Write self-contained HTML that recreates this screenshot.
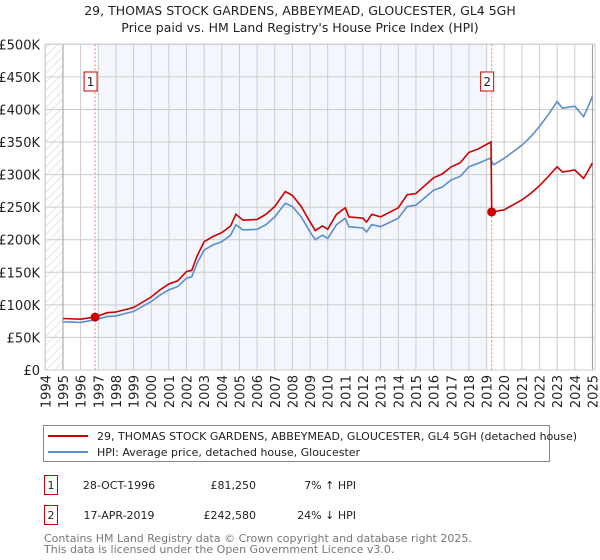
<!DOCTYPE html>
<html><head><meta charset="utf-8"><style>
body{margin:0;background:#fff;font-family:"Liberation Sans","DejaVu Sans",sans-serif;}
#wrap{position:relative;width:600px;height:560px;overflow:hidden;}
svg text{font-family:"DejaVu Sans","Liberation Sans",sans-serif;}
</style></head><body>
<div id="wrap">
<svg id="chart" width="600" height="560"></svg>
</div>
<script>
const hpiYears=[1995,1996,1996.8,1997.5,1998,1999,2000,2000.5,2001,2001.5,2002,2002.3,2002.6,2003,2003.5,2004,2004.5,2004.8,2005.2,2006,2006.5,2007,2007.6,2008,2008.5,2009,2009.3,2009.7,2010,2010.5,2011,2011.2,2012,2012.2,2012.5,2013,2014,2014.5,2015,2016,2016.5,2017,2017.5,2018,2018.5,2019.2,2019.4,2020,2021,2021.5,2022,2022.5,2023,2023.3,2024,2024.5,2024.8,2025];
const hpiValues=[74,73,77,82,83,90,105,115,123,128,141,143,164,184,192,197,207,223,215,216,223,235,256,251,235,212,200,207,202,223,233,220,218,212,223,220,233,251,253,276,281,292,297,312,317,325,315,325,345,358,374,392,412,402,405,389,407,420];
const priceYears=[1995,1996,1996.82,1997.5,1998,1999,2000,2000.5,2001,2001.5,2002,2002.3,2002.6,2003,2003.5,2004,2004.5,2004.8,2005.2,2006,2006.5,2007,2007.6,2008,2008.5,2009,2009.3,2009.7,2010,2010.5,2011,2011.2,2012,2012.2,2012.5,2013,2014,2014.5,2015,2016,2016.5,2017,2017.5,2018,2018.5,2019.25,2019.29,2020,2021,2021.5,2022,2022.5,2023,2023.3,2024,2024.5,2024.8,2025];
const priceValues=[79,78,81.25,88,89,96,112,123,132,137,151,153,175,197,205,211,221,239,230,231,239,251,274,268,251,227,214,221,216,239,249,235,233,227,239,235,249,269,271,295,301,312,318,334,339,350,242.58,246,261,271,283,297,312,304,307,294,308,318];
const yTicks=[0,50,100,150,200,250,300,350,400,450,500];
const yTickLabels=["£0","£50K","£100K","£150K","£200K","£250K","£300K","£350K","£400K","£450K","£500K"];
const xTicks=[1994,1995,1996,1997,1998,1999,2000,2001,2002,2003,2004,2005,2006,2007,2008,2009,2010,2011,2012,2013,2014,2015,2016,2017,2018,2019,2020,2021,2022,2023,2024,2025];
const saleYears=[1996.82,2019.29];
const saleValues=[81.25,242.58];
const saleLabels=["1","2"];

const NS="http://www.w3.org/2000/svg";
const svg=document.getElementById('chart');
const L=45,R=595,T=44.3,B=370;
const xs=y=>45.3+(y-1994)*17.65;
const ys=v=>B-(v/500)*(B-T);
function mk(tag,attrs,parent){const e=document.createElementNS(NS,tag);for(const k in attrs)e.setAttribute(k,attrs[k]);(parent||svg).appendChild(e);return e;}

// defs hatch
const defs=mk('defs',{});
const pat=mk('pattern',{id:'hatch',width:6,height:6,patternUnits:'userSpaceOnUse',patternTransform:'rotate(45)'},defs);
mk('line',{x1:0,y1:0,x2:0,y2:6,stroke:'#ccc','stroke-width':1},pat);

// title
let t=mk('text',{x:300,y:15,'text-anchor':'middle','font-size':12.5,fill:'#222'});
t.textContent="29, THOMAS STOCK GARDENS, ABBEYMEAD, GLOUCESTER, GL4 5GH";


t=mk('text',{x:300,y:32,'text-anchor':'middle','font-size':12.5,fill:'#222'});
t.textContent="Price paid vs. HM Land Registry's House Price Index (HPI)";



// hatch region and shaded region
let r=mk('rect',{x:L,y:T,width:xs(1995)-L,height:B-T,fill:'url(#hatch)'});


r=mk('rect',{x:xs(saleYears[0])+3,y:T,width:xs(saleYears[1])-xs(saleYears[0])-7,height:B-T,fill:'#eef3fc',opacity:0.7});



// grid
const g=mk('g',{});


yTicks.forEach((v,i)=>{
  mk('line',{x1:L,x2:R,y1:ys(v),y2:ys(v),stroke:'#ccc','stroke-width':1},g);
  const tx=mk('text',{x:40,y:ys(v)+5,'text-anchor':'end','font-size':13,fill:'#222'});
  tx.textContent=yTickLabels[i];
  
  
});
xTicks.forEach(y=>{
  mk('line',{x1:xs(y),x2:xs(y),y1:T,y2:B,stroke:(y===1995||y===2025)?'#999':'#ccc','stroke-width':1},g);
  const tx=mk('text',{transform:`translate(${xs(y)+5},${B+5}) rotate(-90)`,'text-anchor':'end','font-size':13,fill:'#222'});
  tx.textContent=y;
  
  
});
mk('rect',{x:L,y:T,width:R-L,height:B-T,fill:'none',stroke:'#ccc'},g);

// sale markers dashed lines & labels
saleYears.forEach((y,i)=>{
  const ln=mk('line',{x1:xs(y),x2:xs(y),y1:T,y2:B,stroke:'#f77','stroke-width':1,'stroke-dasharray':'2,2'});
  
  
  const bx=mk('rect',{x:xs(y)-11,y:72,width:13,height:19,fill:'#fff',stroke:'#c00'});
  
  
  const tx=mk('text',{x:xs(y)-4.5,y:86,'text-anchor':'middle','font-size':12,fill:'#222'});
  tx.textContent=saleLabels[i];
});

function pathFor(xsA,vsA){return xsA.map((y,i)=>(i?'L':'M')+xs(y).toFixed(1)+','+ys(vsA[i]).toFixed(1)).join(' ');}
let p=mk('path',{d:pathFor(hpiYears,hpiValues),fill:'none',stroke:'#5b8dd0','stroke-width':1.6});


p=mk('path',{d:pathFor(priceYears,priceValues),fill:'none',stroke:'#cc0000','stroke-width':1.6});


saleYears.forEach((y,i)=>{
  const c=mk('circle',{cx:xs(y),cy:ys(saleValues[i]),r:4.5,fill:'#cc0000'});
  
  
});

// legend
const lg=mk('g',{});


mk('rect',{x:43.5,y:425.5,width:506,height:36,fill:'#fff',stroke:'#888'},lg);
mk('line',{x1:48,x2:88,y1:436,y2:436,stroke:'#cc0000','stroke-width':2},lg);
mk('line',{x1:48,x2:88,y1:452,y2:452,stroke:'#5b8dd0','stroke-width':2},lg);
let lt=mk('text',{x:97,y:440,'font-size':11,fill:'#222'},lg);
lt.textContent="29, THOMAS STOCK GARDENS, ABBEYMEAD, GLOUCESTER, GL4 5GH (detached house)";


lt=mk('text',{x:97,y:456,'font-size':11,fill:'#222'},lg);
lt.textContent="HPI: Average price, detached house, Gloucester";



// table
const rows=[["1","28-OCT-1996","£81,250","7% ↑ HPI"],["2","17-APR-2019","£242,580","24% ↓ HPI"]];
rows.forEach((row,i)=>{
  const y0=475+i*30;
  const rg=mk('g',{});
  
  
  mk('rect',{x:44.5,y:y0+0.5,width:13,height:19,fill:'#fff',stroke:'#c00'},rg);
  let a=mk('text',{x:51,y:y0+14,'text-anchor':'middle','font-size':11,fill:'#222'},rg);a.textContent=row[0];
  a=mk('text',{x:119,y:y0+14,'text-anchor':'middle','font-size':11,fill:'#222'},rg);a.textContent=row[1];
  a=mk('text',{x:256,y:y0+14,'text-anchor':'end','font-size':11,fill:'#222'},rg);a.textContent=row[2];
  a=mk('text',{x:356,y:y0+14,'text-anchor':'end','font-size':11,fill:'#222'},rg);a.textContent=row[3];
});
let f=mk('text',{x:44,y:542,'font-size':11,fill:'#777'});
f.textContent="Contains HM Land Registry data © Crown copyright and database right 2025.";


f=mk('text',{x:44,y:553,'font-size':11,fill:'#777'});
f.textContent="This data is licensed under the Open Government Licence v3.0.";


</script>
</body></html>
